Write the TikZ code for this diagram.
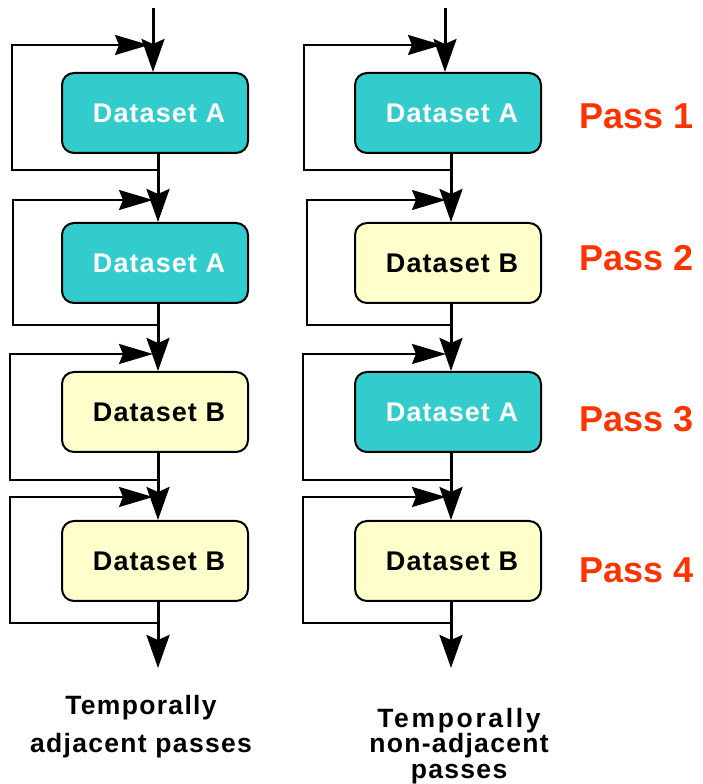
\documentclass[tikz,border=0pt]{standalone}
\usepackage{fontspec}
\setmainfont{Liberation Sans}
\usetikzlibrary{arrows.meta}

\definecolor{dsteal}{HTML}{33CCCC}
\definecolor{dsyellow}{HTML}{FFFFCC}
\definecolor{passred}{HTML}{FF3300}

\tikzset{
  box/.style={draw, line width=2pt, rounded corners=12pt, minimum width=186pt,
    minimum height=80pt, inner sep=0pt,
    font=\bfseries\fontsize{27}{30}\selectfont\addfontfeature{LetterSpace=4}},
  boxa/.style={box, fill=dsteal, text=white},
  boxb/.style={box, fill=dsyellow, text=black},
  flow/.style={line width=3pt, -{Stealth[length=33pt 0,width=23pt 0,inset=5pt 0]}},
  fb/.style={line width=2pt, -{Stealth[length=34pt 0,width=20pt 0,inset=4pt 0]}},
  pass/.style={text=passred, anchor=base west, inner sep=0pt,
    font=\bfseries\fontsize{36}{40}\selectfont},
  note/.style={anchor=north, inner sep=0pt, align=center}
}

\begin{document}
\begin{tikzpicture}[x=1pt,y=1pt]
	\useasboundingbox (0,0) rectangle (703,784);

	% temporally adjacent passes
	\node[boxa] (l1) at (155,671) {\hspace*{8pt}Dataset A};
	\node[boxa] (l2) at (155,521) {\hspace*{8pt}Dataset A};
	\node[boxb] (l3) at (155,372) {\hspace*{8pt}Dataset B};
	\node[boxb] (l4) at (155,223) {\hspace*{8pt}Dataset B};
	\coordinate (lin) at (153,776);
	\coordinate (lout) at (158,116);

	\draw[flow] (lin) -- ([xshift=-2]l1.north);
	\draw[flow] ([xshift=3]l1.south) -- ([xshift=3]l2.north);
	\draw[flow] ([xshift=3]l2.south) -- ([xshift=3]l3.north);
	\draw[flow] ([xshift=3]l3.south) -- ([xshift=3]l4.north);
	\draw[flow] ([xshift=3]l4.south) -- (lout);

	\draw[fb] ([xshift=3,yshift=-16]l1.south) -- ++(-146,0) |- ([xshift=-6,yshift=27]l1.north);
	\draw[fb] ([xshift=3,yshift=-21]l2.south) -- ++(-145,0) |- ([xshift=-2,yshift=22]l2.north);
	\draw[fb] ([xshift=3,yshift=-27]l3.south) -- ++(-148,0) |- ([xshift=-2,yshift=17]l3.north);
	\draw[fb] ([xshift=3,yshift=-21]l4.south) -- ++(-148,0) |- ([xshift=-2,yshift=23]l4.north);

	% temporally non-adjacent passes
	\node[boxa] (r1) at (448,671) {\hspace*{8pt}Dataset A};
	\node[boxb] (r2) at (448,521) {\hspace*{8pt}Dataset B};
	\node[boxa] (r3) at (448,372) {\hspace*{8pt}Dataset A};
	\node[boxb] (r4) at (448,223) {\hspace*{8pt}Dataset B};
	\coordinate (rin) at (445,776);
	\coordinate (rout) at (451,116);

	\draw[flow] (rin) -- ([xshift=-3]r1.north);
	\draw[flow] ([xshift=3]r1.south) -- ([xshift=3]r2.north);
	\draw[flow] ([xshift=3]r2.south) -- ([xshift=3]r3.north);
	\draw[flow] ([xshift=3]r3.south) -- ([xshift=3]r4.north);
	\draw[flow] ([xshift=3]r4.south) -- (rout);

	\draw[fb] ([xshift=3,yshift=-16]r1.south) -- ++(-147,0) |- ([xshift=-6,yshift=27]r1.north);
	\draw[fb] ([xshift=3,yshift=-21]r2.south) -- ++(-144,0) |- ([xshift=-2,yshift=22]r2.north);
	\draw[fb] ([xshift=3,yshift=-27]r3.south) -- ++(-148,0) |- ([xshift=-2,yshift=17]r3.north);
	\draw[fb] ([xshift=3,yshift=-21]r4.south) -- ++(-148,0) |- ([xshift=-2,yshift=23]r4.north);

	% pass labels
	\node[pass] (p1) at (579,655) {Pass 1};
	\node[pass] (p2) at (579,513) {Pass 2};
	\node[pass] (p3) at (579,352) {Pass 3};
	\node[pass] (p4) at (579,201) {Pass 4};

	\node[note, font=\bfseries\fontsize{26.5}{38}\selectfont\addfontfeature{LetterSpace=5}]
		(ladj) at (141,89) {Temporally\\adjacent passes};
	\node[note, font=\bfseries\fontsize{26.5}{25.5}\selectfont\addfontfeature{LetterSpace=5}]
		(rnon) at (459,76) {\addfontfeature{LetterSpace=10}Temporally\\non-adjacent\\passes};
\end{tikzpicture}
\end{document}
